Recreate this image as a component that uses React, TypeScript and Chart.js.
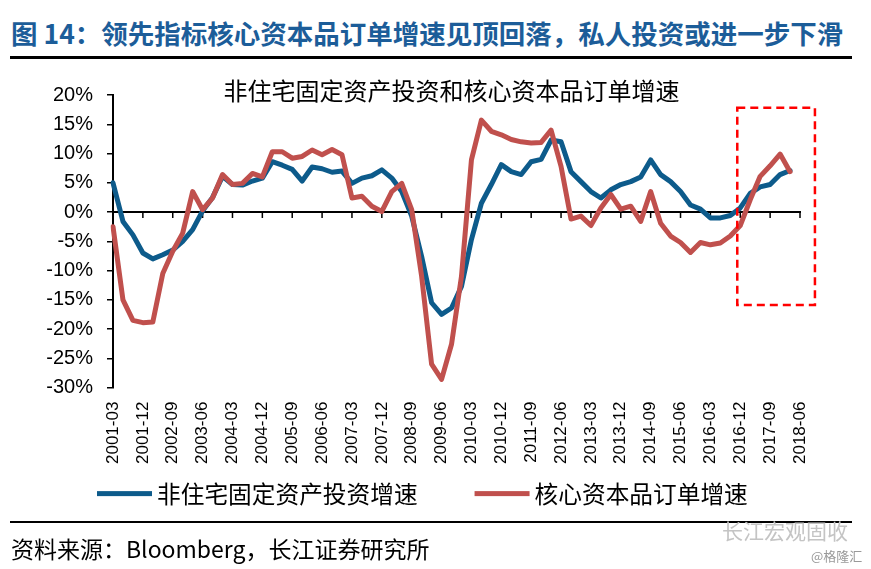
import React, { useEffect, useRef } from "react";
import { Chart, registerables } from "chart.js";

Chart.register(...registerables);

const categories: string[] = [
  "2001-03", "2001-06", "2001-09", "2001-12", "2002-03", "2002-06", "2002-09", "2002-12",
  "2003-03", "2003-06", "2003-09", "2003-12", "2004-03", "2004-06", "2004-09", "2004-12",
  "2005-03", "2005-06", "2005-09", "2005-12", "2006-03", "2006-06", "2006-09", "2006-12",
  "2007-03", "2007-06", "2007-09", "2007-12", "2008-03", "2008-06", "2008-09", "2008-12",
  "2009-03", "2009-06", "2009-09", "2009-12", "2010-03", "2010-06", "2010-09", "2010-12",
  "2011-03", "2011-06", "2011-09", "2011-12", "2012-03", "2012-06", "2012-09", "2012-12",
  "2013-03", "2013-06", "2013-09", "2013-12", "2014-03", "2014-06", "2014-09", "2014-12",
  "2015-03", "2015-06", "2015-09", "2015-12", "2016-03", "2016-06", "2016-09", "2016-12",
  "2017-03", "2017-06", "2017-09", "2017-12", "2018-03", "2018-06",
];

// 非住宅固定资产投资增速 (%)
const nonResInvestment: (number | null)[] = [
  5.0, -1.6, -3.9, -7.0, -8.0, -7.3, -6.5, -5.0,
  -3.0, 0.2, 2.5, 6.1, 4.7, 4.6, 5.3, 5.8,
  8.6, 8.0, 7.3, 5.3, 7.7, 7.4, 6.8, 7.0,
  4.9, 5.8, 6.2, 7.2, 5.8, 3.5, -0.7, -7.6,
  -15.5, -17.5, -16.4, -12.7, -4.7, 1.5, 4.7, 8.1,
  6.9, 6.4, 8.6, 9.0, 12.3, 12.0, 6.9, 5.2,
  3.5, 2.4, 3.8, 4.7, 5.2, 6.0, 8.9, 6.4,
  5.2, 3.5, 1.2, 0.5, -1.0, -1.0, -0.6, 0.7,
  3.2, 4.3, 4.7, 6.4, 7.1, null,
];

// 核心资本品订单增速 (%)
const coreCapexOrders: (number | null)[] = [
  -2.5, -15.0, -18.5, -18.9, -18.8, -10.5, -6.7, -3.6,
  3.5, 0.4, 2.4, 6.4, 4.7, 4.9, 6.6, 6.0,
  10.3, 10.3, 9.2, 9.5, 10.6, 9.8, 10.7, 9.8,
  2.4, 2.7, 1.0, 0.1, 3.5, 4.9, 0.4, -11.0,
  -26.0, -28.6, -22.6, -11.0, 8.9, 15.7, 13.8, 13.2,
  12.4, 12.0, 11.8, 11.9, 14.0, 7.8, -1.2, -0.7,
  -2.3, 0.7, 3.0, 0.5, 1.0, -1.6, 3.5, -1.9,
  -4.1, -5.2, -6.9, -5.2, -5.6, -5.3, -4.1, -2.3,
  2.1, 6.1, 7.9, 9.9, 6.9, null,
];

const yTicks = { min: -30, max: 20, step: 5 };
const labelEvery = 3;

// highlighted region (data units: category index, percent)
const highlightFromIndex = 62.7;
const highlightToIndex = 70.5;
const highlightTop = 17.8;
const highlightBottom = -15.9;

const BLUE = "#0d5b8b";
const RED = "#c0504d";
const LATIN = "'Liberation Sans', Arial, 'Noto Sans CJK SC', sans-serif";
const CJK = "'Noto Sans CJK SC', 'Liberation Sans', sans-serif";

const zeroLinePlugin = {
  id: "zeroLine",
  beforeDatasetsDraw(chart: any) {
    const { ctx, chartArea, scales } = chart;
    const x = scales.x;
    const y = scales.y;
    const y0 = y.getPixelForValue(0);
    ctx.save();
    ctx.strokeStyle = "#000";
    ctx.lineWidth = 2;
    ctx.beginPath();
    ctx.moveTo(chartArea.left, y0);
    ctx.lineTo(chartArea.right + 1, y0);
    ctx.stroke();
    ctx.lineWidth = 1.5;
    ctx.beginPath();
    for (let i = 0; i < categories.length; i += labelEvery) {
      const px = x.getPixelForValue(i);
      ctx.moveTo(px, y0);
      ctx.lineTo(px, y0 + 6);
    }
    ctx.stroke();
    ctx.restore();
  },
};

const boxPlugin = {
  id: "highlightBox",
  afterDatasetsDraw(chart: any) {
    const { ctx, scales } = chart;
    const x1 = scales.x.getPixelForValue(highlightFromIndex);
    const x2 = scales.x.getPixelForValue(highlightToIndex);
    const y1 = scales.y.getPixelForValue(highlightTop);
    const y2 = scales.y.getPixelForValue(highlightBottom);
    ctx.save();
    ctx.strokeStyle = "#ff0000";
    ctx.lineWidth = 2.5;
    ctx.setLineDash([8, 5]);
    ctx.strokeRect(x1, y1, x2 - x1, y2 - y1);
    ctx.restore();
  },
};

const legendPlugin = {
  id: "lineLegend",
  afterDraw(chart: any) {
    const { ctx, chartArea } = chart;
    const items = chart.data.datasets.map((ds: any) => ({ label: ds.label, color: ds.borderColor }));
    const swatch = 55;
    const textGap = 5;
    const itemGap = 57;
    ctx.save();
    ctx.font = `23.7px ${CJK}`;
    ctx.textBaseline = "middle";
    ctx.textAlign = "left";
    let x = chartArea.left - 16;
    const y = chartArea.bottom + 106;
    items.forEach((it: any) => {
      ctx.fillStyle = it.color;
      ctx.fillRect(x, y - 2.5, swatch, 5);
      x += swatch + textGap;
      ctx.fillStyle = "#000";
      ctx.fillText(it.label, x, y);
      x += ctx.measureText(it.label).width + itemGap;
    });
    ctx.restore();
  },
};

export default function App() {
  const canvasRef = useRef<HTMLCanvasElement | null>(null);

  useEffect(() => {
    if (!canvasRef.current) return;
    const chart = new Chart(canvasRef.current, {
      type: "line",
      data: {
        labels: categories,
        datasets: [
          {
            label: "非住宅固定资产投资增速",
            data: nonResInvestment,
            borderColor: BLUE,
            backgroundColor: BLUE,
            borderWidth: 5,
            pointRadius: 0,
            tension: 0,
            borderJoinStyle: "round",
            borderCapStyle: "round",
            order: 1,
          },
          {
            label: "核心资本品订单增速",
            data: coreCapexOrders,
            borderColor: RED,
            backgroundColor: RED,
            borderWidth: 5,
            pointRadius: 0,
            tension: 0,
            borderJoinStyle: "round",
            borderCapStyle: "round",
            order: 0,
          },
        ],
      },
      options: {
        responsive: false,
        animation: false,
        events: [],
        layout: { padding: { left: 45, right: 71, top: 33, bottom: 54 } },
        plugins: {
          title: { display: false },
          tooltip: { enabled: false },
          legend: { display: false },
        },
        scales: {
          x: {
            type: "category",
            offset: false,
            grid: { display: false, drawTicks: false },
            border: { display: false },
            ticks: {
              autoSkip: false,
              maxRotation: 90,
              minRotation: 90,
              padding: 14,
              color: "#000",
              font: { size: 17, family: LATIN },
              callback: (_v: any, i: number) => (i % labelEvery === 0 ? categories[i] : null),
            },
          },
          y: {
            min: yTicks.min,
            max: yTicks.max,
            ticks: {
              stepSize: yTicks.step,
              color: "#000",
              padding: 14,
              font: { size: 20, family: LATIN },
              callback: (v: any) => `${v}%`,
            },
            grid: {
              display: true,
              drawOnChartArea: false,
              drawTicks: true,
              tickLength: 6,
              color: "#000",
              lineWidth: 1.5,
            },
            border: { display: true, color: "#000", width: 2 },
            afterFit: (scale: any) => {
              scale.width = 68;
            },
          },
        },
      },
      plugins: [zeroLinePlugin, boxPlugin, legendPlugin],
    } as any);
    return () => chart.destroy();
  }, []);

  return (
    <div
      style={{
        position: "absolute",
        left: 0,
        top: 0,
        width: 871,
        height: 569,
        overflow: "hidden",
        background: "#fff",
      }}
    >
      <div
        style={{
          position: "absolute",
          left: 11,
          top: 17,
          fontFamily: CJK,
          fontWeight: 700,
          fontSize: 26.5,
          lineHeight: "32px",
          color: "#1c5d99",
          whiteSpace: "nowrap",
        }}
      >
        图 14：领先指标核心资本品订单增速见顶回落，私人投资或进一步下滑
      </div>
      <div style={{ position: "absolute", left: 10, top: 56, width: 842, height: 2.5, background: "#000" }} />
      <canvas
        ref={canvasRef}
        width={871}
        height={470}
        style={{ position: "absolute", left: 0, top: 62, width: 871, height: 470 }}
      />
      <div
        style={{
          position: "absolute",
          left: 0,
          top: 76,
          width: 903,
          textAlign: "center",
          fontFamily: CJK,
          fontSize: 24,
          lineHeight: "28px",
          color: "#000",
          whiteSpace: "nowrap",
        }}
      >
        非住宅固定资产投资和核心资本品订单增速
      </div>
      <div style={{ position: "absolute", left: 10, top: 520.5, width: 842, height: 2, background: "#000" }} />
      <div
        style={{
          position: "absolute",
          left: 722,
          top: 517,
          fontFamily: CJK,
          fontSize: 21,
          lineHeight: "26px",
          color: "#c4c4c4",
          whiteSpace: "nowrap",
        }}
      >
        长江宏观固收
      </div>
      <div
        style={{
          position: "absolute",
          left: 11,
          top: 535,
          fontFamily: CJK,
          fontSize: 23,
          lineHeight: "26px",
          color: "#000",
          whiteSpace: "nowrap",
        }}
      >
        资料来源：Bloomberg，长江证券研究所
      </div>
      <div
        style={{
          position: "absolute",
          left: 811,
          top: 548,
          fontFamily: CJK,
          fontSize: 13,
          lineHeight: "16px",
          color: "#999",
          whiteSpace: "nowrap",
        }}
      >
        @格隆汇
      </div>
    </div>
  );
}
